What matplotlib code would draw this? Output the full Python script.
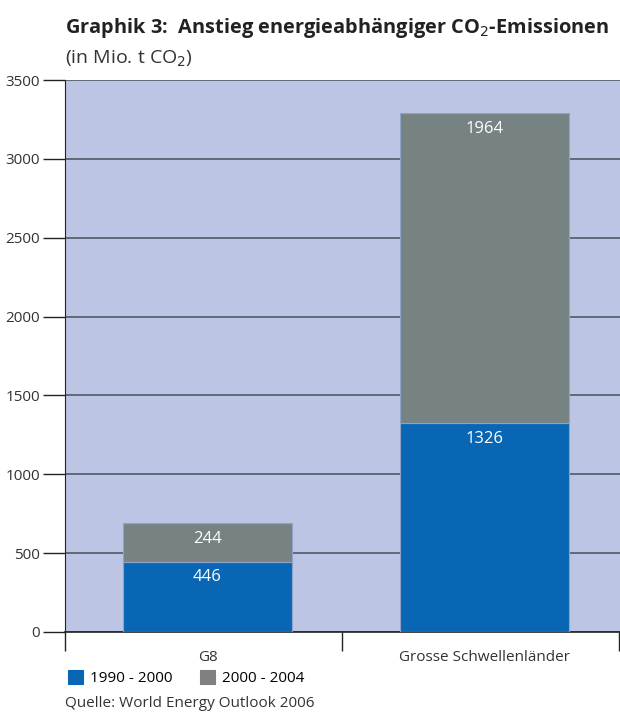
import numpy as np
import matplotlib.pyplot as plt

plt.rcParams['font.family'] = ['Open Sans', 'DejaVu Sans']

# Daten (Mio. t CO2)
gruppen = ['G8', 'Grosse Schwellenländer']
zeitraum_1 = [446, 1326]   # 1990 - 2000
zeitraum_2 = [244, 1964]   # 2000 - 2004
serien = ['1990 - 2000', '2000 - 2004']
y_ticks = [0, 500, 1000, 1500, 2000, 2500, 3000, 3500]

blau = '#0966b4'
grau = '#778383'
hintergrund = '#bcc6e4'

fig = plt.figure(figsize=(6.2, 7.12), dpi=100)
ax = fig.add_axes([0.1048, 0.1124, 0.8952, 0.7752])
ax.set_facecolor(hintergrund)

x = np.arange(len(gruppen))
b1 = ax.bar(x, zeitraum_1, width=0.61, color=blau, edgecolor='#8fa3c8',
            linewidth=0.8, label=serien[0], zorder=3)
b2 = ax.bar(x, zeitraum_2, width=0.61, bottom=zeitraum_1, color=grau,
            edgecolor='#8fa3c8', linewidth=0.8, label=serien[1], zorder=3)

# Werte oben im jeweiligen Segment
for i in x:
    ax.text(x[i], zeitraum_1[i] - 100, str(zeitraum_1[i]), ha='center',
            va='center', color='white', fontsize=12, zorder=4)
    oben = zeitraum_1[i] + zeitraum_2[i]
    ax.text(x[i], oben - 100, str(zeitraum_2[i]), ha='center',
            va='center', color='white', fontsize=12, zorder=4)

ax.set_xlim(-0.515, 1.49)
ax.set_ylim(0, 3500)
ax.set_yticks(y_ticks)
ax.yaxis.grid(True, color='#4e5a68', linewidth=1.2, zorder=1)
ax.set_axisbelow(True)

ax.tick_params(axis='y', direction='out', length=16, width=1, color='#222222',
               labelsize=11, labelcolor='#333333', pad=2)
ax.set_xticks(x)
ax.set_xticklabels(gruppen, fontsize=11, color='#333333')
ax.tick_params(axis='x', which='major', length=0, pad=13)
ax.set_xticks([-0.515, 0.485, 1.485], minor=True)
ax.tick_params(axis='x', which='minor', direction='out', length=14,
               width=1, color='#222222')

for s in ['top', 'right']:
    ax.spines[s].set_visible(False)
ax.spines['left'].set_color('#222222')
ax.spines['bottom'].set_color('#222222')
ax.spines['bottom'].set_linewidth(1.2)

fig.text(0.1048, 0.961, 'Graphik 3:  Anstieg energieabhängiger CO$_2$-Emissionen',
         fontsize=14.4, fontweight='bold', color='#222222', va='center')
fig.text(0.1048, 0.918, '(in Mio. t CO$_2$)', fontsize=14, color='#333333',
         va='center')

leg = fig.legend(handles=[b1, b2], labels=serien, loc='center left',
                 bbox_to_anchor=(0.092, 0.048), ncol=2, frameon=False,
                 fontsize=11, handlelength=1.0, handleheight=1.1,
                 columnspacing=1.8, handletextpad=0.45, borderpad=0.2)
for h, c in zip(leg.legend_handles, [blau, '#808080']):
    h.set_facecolor(c)
    h.set_edgecolor(c)

fig.text(0.1048, 0.012, 'Quelle: World Energy Outlook 2006', fontsize=11,
         color='#333333', va='center')

fig.savefig('out.png', dpi=100)
